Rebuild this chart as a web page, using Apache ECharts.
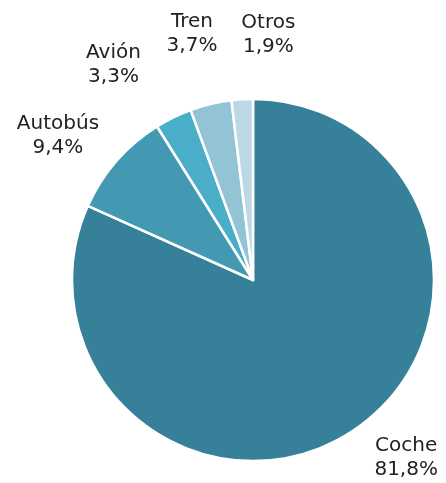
<!DOCTYPE html>
<html>
<head>
<meta charset="utf-8">
<script src="https://cdn.jsdelivr.net/npm/echarts@6/dist/echarts.min.js"></script>
<style>
  html, body { margin: 0; padding: 0; background: #fff; }
  #chart { width: 446px; height: 483px; }
</style>
</head>
<body>
<div id="chart"></div>
<script>
var categories = ["Coche", "Autobús", "Avión", "Tren", "Otros"];
var values = [81.8, 9.4, 3.3, 3.7, 1.9];
var colors = ["#37809a", "#4499b2", "#4aaec8", "#93c4d6", "#bcd8e5"];
// label line lengths (hidden lines) so labels sit where the reference has them
var lineLen = [31, 38, 59, 72, 65];
var lineLen2 = [38, 30, 34, 2, -30];

var chartDom = document.getElementById("chart");
var myChart = echarts.init(chartDom);

var data = categories.map(function (name, i) {
  return {
    name: name,
    value: values[i],
    itemStyle: { color: colors[i] },
    labelLine: { length: lineLen[i], length2: lineLen2[i] }
  };
});

var option = {
  animation: false,
  series: [
    {
      type: "pie",
      center: [253, 280],
      radius: [0, 181],
      startAngle: 90,
      clockwise: true,
      avoidLabelOverlap: false,
      itemStyle: { borderColor: "#fff", borderWidth: 2.5 },
      label: {
        show: true,
        position: "outside",
        distanceToLabelLine: 0,
        fontFamily: "DejaVu Sans",
        fontSize: 20,
        lineHeight: 24,
        color: "#222",
        formatter: function (p) {
          return p.name + "\n" + p.value.toFixed(1).replace(".", ",") + "%";
        }
      },
      labelLine: { show: false },
      labelLayout: { align: "center", verticalAlign: "middle" },
      emphasis: { disabled: true },
      data: data
    }
  ]
};

option && myChart.setOption(option);
</script>
</body>
</html>
